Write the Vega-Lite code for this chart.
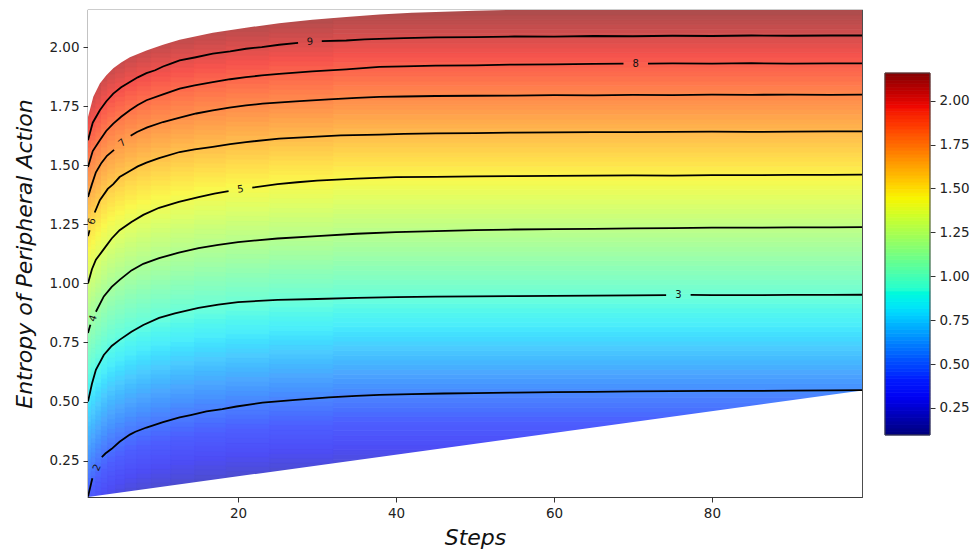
{
  "$schema": "https://vega.github.io/schema/vega-lite/v6.json",
  "width": 774,
  "height": 487,
  "autosize": {"type": "none"},
  "padding": {"left": 88, "top": 10, "right": 111, "bottom": 54},
  "background": "white",
  "config": {
    "view": {"stroke": "#3a3a3a", "strokeWidth": 1.2},
    "axis": {"domain": false, "grid": false, "tickColor": "#333", "tickSize": 5, "tickWidth": 1, "labelFontSize": 13.5, "labelColor": "#222", "labelFont": "DejaVu Sans", "titleFont": "DejaVu Sans", "titleFontStyle": "italic", "titleFontWeight": "normal", "titleFontSize": 22, "titleColor": "#111", "labelPadding": 4}
  },
  "datasets": {
    "bands": [
      {"h":0.096,"h2":0.116},{"h":0.116,"h2":0.136},{"h":0.136,"h2":0.156},{"h":0.156,"h2":0.176},{"h":0.176,"h2":0.196},
      {"h":0.196,"h2":0.216},{"h":0.216,"h2":0.236},{"h":0.236,"h2":0.256},{"h":0.256,"h2":0.276},{"h":0.276,"h2":0.296},
      {"h":0.296,"h2":0.316},{"h":0.316,"h2":0.336},{"h":0.336,"h2":0.356},{"h":0.356,"h2":0.376},{"h":0.376,"h2":0.396},
      {"h":0.396,"h2":0.416},{"h":0.416,"h2":0.436},{"h":0.436,"h2":0.456},{"h":0.456,"h2":0.476},{"h":0.476,"h2":0.496},
      {"h":0.496,"h2":0.516},{"h":0.516,"h2":0.536},{"h":0.536,"h2":0.556},{"h":0.556,"h2":0.576},{"h":0.576,"h2":0.596},
      {"h":0.596,"h2":0.616},{"h":0.616,"h2":0.636},{"h":0.636,"h2":0.656},{"h":0.656,"h2":0.676},{"h":0.676,"h2":0.696},
      {"h":0.696,"h2":0.716},{"h":0.716,"h2":0.736},{"h":0.736,"h2":0.756},{"h":0.756,"h2":0.776},{"h":0.776,"h2":0.796},
      {"h":0.796,"h2":0.816},{"h":0.816,"h2":0.836},{"h":0.836,"h2":0.856},{"h":0.856,"h2":0.876},{"h":0.876,"h2":0.896},
      {"h":0.896,"h2":0.916},{"h":0.916,"h2":0.936},{"h":0.936,"h2":0.956},{"h":0.956,"h2":0.976},{"h":0.976,"h2":0.996},
      {"h":0.996,"h2":1.016},{"h":1.016,"h2":1.036},{"h":1.036,"h2":1.056},{"h":1.056,"h2":1.076},{"h":1.076,"h2":1.096},
      {"h":1.096,"h2":1.116},{"h":1.116,"h2":1.136},{"h":1.136,"h2":1.156},{"h":1.156,"h2":1.176},{"h":1.176,"h2":1.196},
      {"h":1.196,"h2":1.216},{"h":1.216,"h2":1.236},{"h":1.236,"h2":1.256},{"h":1.256,"h2":1.276},{"h":1.276,"h2":1.296},
      {"h":1.296,"h2":1.316},{"h":1.316,"h2":1.336},{"h":1.336,"h2":1.356},{"h":1.356,"h2":1.376},{"h":1.376,"h2":1.396},
      {"h":1.396,"h2":1.416},{"h":1.416,"h2":1.436},{"h":1.436,"h2":1.456},{"h":1.456,"h2":1.476},{"h":1.476,"h2":1.496},
      {"h":1.496,"h2":1.516},{"h":1.516,"h2":1.536},{"h":1.536,"h2":1.556},{"h":1.556,"h2":1.576},{"h":1.576,"h2":1.596},
      {"h":1.596,"h2":1.616},{"h":1.616,"h2":1.636},{"h":1.636,"h2":1.656},{"h":1.656,"h2":1.676},{"h":1.676,"h2":1.696},
      {"h":1.696,"h2":1.716},{"h":1.716,"h2":1.736},{"h":1.736,"h2":1.756},{"h":1.756,"h2":1.776},{"h":1.776,"h2":1.796},
      {"h":1.796,"h2":1.816},{"h":1.816,"h2":1.836},{"h":1.836,"h2":1.856},{"h":1.856,"h2":1.876},{"h":1.876,"h2":1.896},
      {"h":1.896,"h2":1.916},{"h":1.916,"h2":1.936},{"h":1.936,"h2":1.956},{"h":1.956,"h2":1.976},{"h":1.976,"h2":1.996},
      {"h":1.996,"h2":2.016},{"h":2.016,"h2":2.036},{"h":2.036,"h2":2.056},{"h":2.056,"h2":2.076},{"h":2.076,"h2":2.096},
      {"h":2.096,"h2":2.116},{"h":2.116,"h2":2.136},{"h":2.136,"h2":2.157}
    ],
    "top": [
      {"x":1,"y":1.704},{"x":1.67,"y":1.79},{"x":2.5,"y":1.846},{"x":3.3,"y":1.88},{"x":4.2,"y":1.91},{"x":5.2,"y":1.935},
      {"x":6.3,"y":1.957},{"x":8.4,"y":1.986},{"x":10.5,"y":2.01},{"x":12.6,"y":2.031},{"x":16.8,"y":2.061},{"x":21,"y":2.082},
      {"x":25.2,"y":2.101},{"x":29.4,"y":2.116},{"x":33.7,"y":2.127},{"x":37.9,"y":2.138},{"x":42,"y":2.145},{"x":46,"y":2.15},
      {"x":50,"y":2.154},{"x":54,"y":2.157},{"x":99,"y":2.157}
    ],
    "bottom": [
      {"x":1,"y":0.096},{"x":99,"y":0.547}
    ],
    "contours": [
      {"lv":9,"s":"9a","x":1,"y":1.606},{"lv":9,"s":"9a","x":1.6,"y":1.68},{"lv":9,"s":"9a","x":2.5,"y":1.733},{"lv":9,"s":"9a","x":3.3,"y":1.77},
      {"lv":9,"s":"9a","x":4.2,"y":1.803},{"lv":9,"s":"9a","x":5.2,"y":1.83},{"lv":9,"s":"9a","x":6.3,"y":1.852},{"lv":9,"s":"9a","x":7.3,"y":1.872},
      {"lv":9,"s":"9a","x":8.4,"y":1.89},{"lv":9,"s":"9a","x":9.5,"y":1.902},{"lv":9,"s":"9a","x":10.5,"y":1.918},{"lv":9,"s":"9a","x":11.5,"y":1.93},
      {"lv":9,"s":"9a","x":12.6,"y":1.944},{"lv":9,"s":"9a","x":14.5,"y":1.956},{"lv":9,"s":"9a","x":16.8,"y":1.972},{"lv":9,"s":"9a","x":19,"y":1.982},
      {"lv":9,"s":"9a","x":21,"y":1.993},{"lv":9,"s":"9a","x":23,"y":2.0},{"lv":9,"s":"9a","x":25.2,"y":2.01},{"lv":9,"s":"9a","x":27.6,"y":2.018},
      {"lv":9,"s":"9b","x":30.6,"y":2.025},{"lv":9,"s":"9b","x":33.7,"y":2.028},{"lv":9,"s":"9b","x":36,"y":2.033},{"lv":9,"s":"9b","x":37.9,"y":2.035},
      {"lv":9,"s":"9b","x":41,"y":2.038},{"lv":9,"s":"9b","x":45,"y":2.041},{"lv":9,"s":"9b","x":50,"y":2.042},{"lv":9,"s":"9b","x":55,"y":2.045},
      {"lv":9,"s":"9b","x":60,"y":2.044},{"lv":9,"s":"9b","x":65,"y":2.047},{"lv":9,"s":"9b","x":70,"y":2.046},{"lv":9,"s":"9b","x":75,"y":2.048},
      {"lv":9,"s":"9b","x":80,"y":2.047},{"lv":9,"s":"9b","x":85,"y":2.049},{"lv":9,"s":"9b","x":90,"y":2.048},{"lv":9,"s":"9b","x":95,"y":2.049},
      {"lv":9,"s":"9b","x":99,"y":2.049},

      {"lv":8,"s":"8a","x":1,"y":1.493},{"lv":8,"s":"8a","x":1.6,"y":1.56},{"lv":8,"s":"8a","x":2.5,"y":1.606},{"lv":8,"s":"8a","x":3.3,"y":1.645},
      {"lv":8,"s":"8a","x":4.2,"y":1.676},{"lv":8,"s":"8a","x":5.2,"y":1.705},{"lv":8,"s":"8a","x":6.3,"y":1.733},{"lv":8,"s":"8a","x":7.3,"y":1.755},
      {"lv":8,"s":"8a","x":8.4,"y":1.775},{"lv":8,"s":"8a","x":10.5,"y":1.8},{"lv":8,"s":"8a","x":12.6,"y":1.824},{"lv":8,"s":"8a","x":14.5,"y":1.838},
      {"lv":8,"s":"8a","x":16.8,"y":1.852},{"lv":8,"s":"8a","x":19,"y":1.864},{"lv":8,"s":"8a","x":21,"y":1.873},{"lv":8,"s":"8a","x":23,"y":1.88},
      {"lv":8,"s":"8a","x":25.2,"y":1.887},{"lv":8,"s":"8a","x":29.4,"y":1.897},{"lv":8,"s":"8a","x":33.7,"y":1.906},{"lv":8,"s":"8a","x":37.9,"y":1.916},
      {"lv":8,"s":"8a","x":41,"y":1.918},{"lv":8,"s":"8a","x":45,"y":1.922},{"lv":8,"s":"8a","x":50,"y":1.923},{"lv":8,"s":"8a","x":55,"y":1.926},
      {"lv":8,"s":"8a","x":60,"y":1.927},{"lv":8,"s":"8a","x":65,"y":1.929},{"lv":8,"s":"8a","x":68.8,"y":1.93},
      {"lv":8,"s":"8b","x":71.9,"y":1.93},{"lv":8,"s":"8b","x":75,"y":1.931},{"lv":8,"s":"8b","x":80,"y":1.93},{"lv":8,"s":"8b","x":85,"y":1.932},
      {"lv":8,"s":"8b","x":90,"y":1.93},{"lv":8,"s":"8b","x":95,"y":1.931},{"lv":8,"s":"8b","x":99,"y":1.931},

      {"lv":7,"s":"7a","x":1,"y":1.366},{"lv":7,"s":"7a","x":1.5,"y":1.42},{"lv":7,"s":"7a","x":2,"y":1.47},{"lv":7,"s":"7a","x":2.7,"y":1.51},
      {"lv":7,"s":"7a","x":3.4,"y":1.54},{"lv":7,"s":"7a","x":4.3,"y":1.565},
      {"lv":7,"s":"7b","x":6.4,"y":1.625},{"lv":7,"s":"7b","x":7.2,"y":1.641},{"lv":7,"s":"7b","x":8.5,"y":1.66},{"lv":7,"s":"7b","x":10.5,"y":1.683},
      {"lv":7,"s":"7b","x":12.5,"y":1.7},{"lv":7,"s":"7b","x":14.7,"y":1.719},{"lv":7,"s":"7b","x":16.8,"y":1.732},{"lv":7,"s":"7b","x":18.9,"y":1.744},
      {"lv":7,"s":"7b","x":21,"y":1.753},{"lv":7,"s":"7b","x":23.1,"y":1.761},{"lv":7,"s":"7b","x":27.3,"y":1.77},{"lv":7,"s":"7b","x":31.5,"y":1.779},
      {"lv":7,"s":"7b","x":35,"y":1.785},{"lv":7,"s":"7b","x":37.9,"y":1.789},{"lv":7,"s":"7b","x":41,"y":1.791},{"lv":7,"s":"7b","x":45,"y":1.793},
      {"lv":7,"s":"7b","x":50,"y":1.794},{"lv":7,"s":"7b","x":55,"y":1.795},{"lv":7,"s":"7b","x":60,"y":1.797},{"lv":7,"s":"7b","x":65,"y":1.796},
      {"lv":7,"s":"7b","x":70,"y":1.798},{"lv":7,"s":"7b","x":75,"y":1.797},{"lv":7,"s":"7b","x":80,"y":1.799},{"lv":7,"s":"7b","x":85,"y":1.798},
      {"lv":7,"s":"7b","x":90,"y":1.799},{"lv":7,"s":"7b","x":95,"y":1.798},{"lv":7,"s":"7b","x":99,"y":1.799},

      {"lv":6,"s":"6a","x":1,"y":1.2},{"lv":6,"s":"6a","x":1.2,"y":1.225},
      {"lv":6,"s":"6b","x":1.85,"y":1.3},{"lv":6,"s":"6b","x":2.5,"y":1.352},{"lv":6,"s":"6b","x":3.5,"y":1.4},{"lv":6,"s":"6b","x":4.2,"y":1.42},
      {"lv":6,"s":"6b","x":5,"y":1.45},{"lv":6,"s":"6b","x":6.3,"y":1.476},{"lv":6,"s":"6b","x":7.3,"y":1.495},{"lv":6,"s":"6b","x":8.4,"y":1.511},
      {"lv":6,"s":"6b","x":10,"y":1.53},{"lv":6,"s":"6b","x":12.6,"y":1.556},{"lv":6,"s":"6b","x":14.5,"y":1.567},{"lv":6,"s":"6b","x":16.8,"y":1.578},
      {"lv":6,"s":"6b","x":19,"y":1.589},{"lv":6,"s":"6b","x":21,"y":1.598},{"lv":6,"s":"6b","x":25.2,"y":1.613},{"lv":6,"s":"6b","x":29.4,"y":1.62},
      {"lv":6,"s":"6b","x":33,"y":1.626},{"lv":6,"s":"6b","x":37.9,"y":1.63},{"lv":6,"s":"6b","x":41,"y":1.633},{"lv":6,"s":"6b","x":45,"y":1.635},
      {"lv":6,"s":"6b","x":50,"y":1.636},{"lv":6,"s":"6b","x":55,"y":1.638},{"lv":6,"s":"6b","x":60,"y":1.639},{"lv":6,"s":"6b","x":65,"y":1.64},
      {"lv":6,"s":"6b","x":70,"y":1.64},{"lv":6,"s":"6b","x":75,"y":1.641},{"lv":6,"s":"6b","x":80,"y":1.642},{"lv":6,"s":"6b","x":85,"y":1.641},
      {"lv":6,"s":"6b","x":90,"y":1.642},{"lv":6,"s":"6b","x":95,"y":1.643},{"lv":6,"s":"6b","x":99,"y":1.643},

      {"lv":5,"s":"5a","x":1,"y":1.0},{"lv":5,"s":"5a","x":1.5,"y":1.06},{"lv":5,"s":"5a","x":2,"y":1.1},{"lv":5,"s":"5a","x":3,"y":1.145},
      {"lv":5,"s":"5a","x":4,"y":1.19},{"lv":5,"s":"5a","x":5,"y":1.225},{"lv":5,"s":"5a","x":6.5,"y":1.26},{"lv":5,"s":"5a","x":8,"y":1.29},
      {"lv":5,"s":"5a","x":10,"y":1.32},{"lv":5,"s":"5a","x":12.5,"y":1.345},{"lv":5,"s":"5a","x":15,"y":1.365},{"lv":5,"s":"5a","x":17,"y":1.38},
      {"lv":5,"s":"5a","x":18.8,"y":1.39},
      {"lv":5,"s":"5b","x":21.8,"y":1.405},{"lv":5,"s":"5b","x":25,"y":1.42},{"lv":5,"s":"5b","x":27.5,"y":1.428},{"lv":5,"s":"5b","x":30,"y":1.435},
      {"lv":5,"s":"5b","x":35,"y":1.443},{"lv":5,"s":"5b","x":40,"y":1.45},{"lv":5,"s":"5b","x":45,"y":1.451},{"lv":5,"s":"5b","x":50,"y":1.453},
      {"lv":5,"s":"5b","x":55,"y":1.454},{"lv":5,"s":"5b","x":60,"y":1.455},{"lv":5,"s":"5b","x":65,"y":1.456},{"lv":5,"s":"5b","x":70,"y":1.457},
      {"lv":5,"s":"5b","x":75,"y":1.456},{"lv":5,"s":"5b","x":80,"y":1.458},{"lv":5,"s":"5b","x":85,"y":1.458},{"lv":5,"s":"5b","x":90,"y":1.459},
      {"lv":5,"s":"5b","x":95,"y":1.459},{"lv":5,"s":"5b","x":99,"y":1.46},

      {"lv":4,"s":"4a","x":1,"y":0.79},{"lv":4,"s":"4a","x":1.3,"y":0.825},
      {"lv":4,"s":"4b","x":2,"y":0.88},{"lv":4,"s":"4b","x":3,"y":0.945},{"lv":4,"s":"4b","x":4,"y":0.985},{"lv":4,"s":"4b","x":5,"y":1.015},
      {"lv":4,"s":"4b","x":6.5,"y":1.055},{"lv":4,"s":"4b","x":8,"y":1.083},{"lv":4,"s":"4b","x":10,"y":1.107},{"lv":4,"s":"4b","x":12.5,"y":1.13},
      {"lv":4,"s":"4b","x":15,"y":1.149},{"lv":4,"s":"4b","x":17.5,"y":1.163},{"lv":4,"s":"4b","x":20,"y":1.175},{"lv":4,"s":"4b","x":25,"y":1.19},
      {"lv":4,"s":"4b","x":30,"y":1.2},{"lv":4,"s":"4b","x":35,"y":1.21},{"lv":4,"s":"4b","x":40,"y":1.217},{"lv":4,"s":"4b","x":45,"y":1.221},
      {"lv":4,"s":"4b","x":50,"y":1.225},{"lv":4,"s":"4b","x":55,"y":1.228},{"lv":4,"s":"4b","x":60,"y":1.23},{"lv":4,"s":"4b","x":65,"y":1.231},
      {"lv":4,"s":"4b","x":70,"y":1.233},{"lv":4,"s":"4b","x":75,"y":1.234},{"lv":4,"s":"4b","x":80,"y":1.236},{"lv":4,"s":"4b","x":85,"y":1.236},
      {"lv":4,"s":"4b","x":90,"y":1.237},{"lv":4,"s":"4b","x":95,"y":1.237},{"lv":4,"s":"4b","x":99,"y":1.238},

      {"lv":3,"s":"3a","x":1,"y":0.5},{"lv":3,"s":"3a","x":1.5,"y":0.575},{"lv":3,"s":"3a","x":2,"y":0.634},{"lv":3,"s":"3a","x":3,"y":0.697},
      {"lv":3,"s":"3a","x":4,"y":0.735},{"lv":3,"s":"3a","x":5,"y":0.761},{"lv":3,"s":"3a","x":6.5,"y":0.795},{"lv":3,"s":"3a","x":8,"y":0.824},
      {"lv":3,"s":"3a","x":10,"y":0.854},{"lv":3,"s":"3a","x":12,"y":0.873},{"lv":3,"s":"3a","x":15,"y":0.896},{"lv":3,"s":"3a","x":17.5,"y":0.91},
      {"lv":3,"s":"3a","x":20,"y":0.921},{"lv":3,"s":"3a","x":25,"y":0.93},{"lv":3,"s":"3a","x":30,"y":0.934},{"lv":3,"s":"3a","x":35,"y":0.939},
      {"lv":3,"s":"3a","x":40,"y":0.942},{"lv":3,"s":"3a","x":45,"y":0.944},{"lv":3,"s":"3a","x":50,"y":0.945},{"lv":3,"s":"3a","x":55,"y":0.946},
      {"lv":3,"s":"3a","x":60,"y":0.947},{"lv":3,"s":"3a","x":65,"y":0.948},{"lv":3,"s":"3a","x":70,"y":0.949},{"lv":3,"s":"3a","x":74.2,"y":0.95},
      {"lv":3,"s":"3b","x":77.3,"y":0.951},{"lv":3,"s":"3b","x":80,"y":0.95},{"lv":3,"s":"3b","x":85,"y":0.95},{"lv":3,"s":"3b","x":90,"y":0.951},
      {"lv":3,"s":"3b","x":95,"y":0.951},{"lv":3,"s":"3b","x":99,"y":0.952},

      {"lv":2,"s":"2a","x":1,"y":0.098},{"lv":2,"s":"2a","x":1.55,"y":0.175},
      {"lv":2,"s":"2b","x":2.75,"y":0.265},{"lv":2,"s":"2b","x":3.2,"y":0.28},{"lv":2,"s":"2b","x":4,"y":0.3},{"lv":2,"s":"2b","x":5,"y":0.33},
      {"lv":2,"s":"2b","x":6.3,"y":0.36},{"lv":2,"s":"2b","x":7,"y":0.372},{"lv":2,"s":"2b","x":8.4,"y":0.39},{"lv":2,"s":"2b","x":10.5,"y":0.413},
      {"lv":2,"s":"2b","x":12.6,"y":0.433},{"lv":2,"s":"2b","x":14,"y":0.443},{"lv":2,"s":"2b","x":16,"y":0.458},{"lv":2,"s":"2b","x":18,"y":0.468},
      {"lv":2,"s":"2b","x":19.8,"y":0.479},{"lv":2,"s":"2b","x":23.1,"y":0.495},{"lv":2,"s":"2b","x":27.3,"y":0.507},{"lv":2,"s":"2b","x":31.5,"y":0.518},
      {"lv":2,"s":"2b","x":35,"y":0.524},{"lv":2,"s":"2b","x":37.9,"y":0.528},{"lv":2,"s":"2b","x":42,"y":0.531},{"lv":2,"s":"2b","x":46,"y":0.534},
      {"lv":2,"s":"2b","x":50,"y":0.536},{"lv":2,"s":"2b","x":55,"y":0.538},{"lv":2,"s":"2b","x":60,"y":0.54},{"lv":2,"s":"2b","x":65,"y":0.541},
      {"lv":2,"s":"2b","x":70,"y":0.543},{"lv":2,"s":"2b","x":75,"y":0.544},{"lv":2,"s":"2b","x":80,"y":0.545},{"lv":2,"s":"2b","x":85,"y":0.545},
      {"lv":2,"s":"2b","x":90,"y":0.546},{"lv":2,"s":"2b","x":95,"y":0.547},{"lv":2,"s":"2b","x":99,"y":0.548}
    ],
    "labels": [
      {"lv":2,"x":2.15,"y":0.22},{"lv":3,"x":75.75,"y":0.951},{"lv":4,"x":1.65,"y":0.852},{"lv":5,"x":20.3,"y":1.398},
      {"lv":6,"x":1.52,"y":1.262},{"lv":7,"x":5.35,"y":1.595},{"lv":8,"x":70.35,"y":1.93},{"lv":9,"x":29.1,"y":2.022}
    ]
  },
  "resolve": {"scale": {"x": "independent", "y": "independent", "color": "independent", "stroke": "independent"}},
  "layer": [
    {
      "data": {"name": "bands"},
      "mark": {"type": "rect", "clip": true, "strokeWidth": 0.8},
      "encoding": {
        "x": {"datum": 1, "type": "quantitative", "scale": {"domain": [1, 99], "nice": false, "zero": false},
              "axis": {"title": "Steps", "values": [20, 40, 60, 80], "titlePadding": 8}},
        "x2": {"datum": 99},
        "y": {"field": "h", "type": "quantitative", "scale": {"domain": [0.096, 2.157], "nice": false, "zero": false},
              "axis": {"title": "Entropy of Peripheral Action", "values": [0.25, 0.5, 0.75, 1.0, 1.25, 1.5, 1.75, 2.0], "format": ".2f", "titlePadding": 12}},
        "y2": {"field": "h2"},
        "color": {"field": "h", "type": "quantitative", "legend": null,
                  "scale": {"domain": [0.096, 2.157], "range": ["#4d4da6","#4d4dce","#4d4df7","#4d5fff","#4d82ff","#4da6ff","#4dcaff","#4deefa","#69ffdd","#86ffc0","#a3ffa3","#c0ff86","#ddff69","#faf84d","#ffd74d","#ffb64d","#ff954d","#ff744d","#f7534d","#ce4d4d","#a64d4d"]}},
        "stroke": {"field": "h", "type": "quantitative", "legend": null,
                  "scale": {"domain": [0.096, 2.157], "range": ["#4d4da6","#4d4dce","#4d4df7","#4d5fff","#4d82ff","#4da6ff","#4dcaff","#4deefa","#69ffdd","#86ffc0","#a3ffa3","#c0ff86","#ddff69","#faf84d","#ffd74d","#ffb64d","#ff954d","#ff744d","#f7534d","#ce4d4d","#a64d4d"]}}
      }
    },
    {"data": {"name": "bands"}, "mark": {"type": "rect", "clip": true, "strokeWidth": 0.8},
     "encoding": {"x": {"datum": 1, "type": "quantitative", "scale": {"domain": [1, 99], "nice": false, "zero": false}, "axis": null}, "x2": {"datum": 1.4},
      "y": {"field": "h", "type": "quantitative", "scale": {"domain": [0.396, 2.457], "nice": false, "zero": false}, "axis": null}, "y2": {"field": "h2"},
      "color": {"field": "h", "type": "quantitative", "legend": null, "scale": {"domain": [0.096, 2.157], "range": ["#4d4da6","#4d4dce","#4d4df7","#4d5fff","#4d82ff","#4da6ff","#4dcaff","#4deefa","#69ffdd","#86ffc0","#a3ffa3","#c0ff86","#ddff69","#faf84d","#ffd74d","#ffb64d","#ff954d","#ff744d","#f7534d","#ce4d4d","#a64d4d"]}},
      "stroke": {"field": "h", "type": "quantitative", "legend": null, "scale": {"domain": [0.096, 2.157], "range": ["#4d4da6","#4d4dce","#4d4df7","#4d5fff","#4d82ff","#4da6ff","#4dcaff","#4deefa","#69ffdd","#86ffc0","#a3ffa3","#c0ff86","#ddff69","#faf84d","#ffd74d","#ffb64d","#ff954d","#ff744d","#f7534d","#ce4d4d","#a64d4d"]}}}},
    {"data": {"name": "bands"}, "mark": {"type": "rect", "clip": true, "strokeWidth": 0.8},
     "encoding": {"x": {"datum": 1.4, "type": "quantitative", "scale": {"domain": [1, 99], "nice": false, "zero": false}, "axis": null}, "x2": {"datum": 2},
      "y": {"field": "h", "type": "quantitative", "scale": {"domain": [0.366, 2.427], "nice": false, "zero": false}, "axis": null}, "y2": {"field": "h2"},
      "color": {"field": "h", "type": "quantitative", "legend": null, "scale": {"domain": [0.096, 2.157], "range": ["#4d4da6","#4d4dce","#4d4df7","#4d5fff","#4d82ff","#4da6ff","#4dcaff","#4deefa","#69ffdd","#86ffc0","#a3ffa3","#c0ff86","#ddff69","#faf84d","#ffd74d","#ffb64d","#ff954d","#ff744d","#f7534d","#ce4d4d","#a64d4d"]}},
      "stroke": {"field": "h", "type": "quantitative", "legend": null, "scale": {"domain": [0.096, 2.157], "range": ["#4d4da6","#4d4dce","#4d4df7","#4d5fff","#4d82ff","#4da6ff","#4dcaff","#4deefa","#69ffdd","#86ffc0","#a3ffa3","#c0ff86","#ddff69","#faf84d","#ffd74d","#ffb64d","#ff954d","#ff744d","#f7534d","#ce4d4d","#a64d4d"]}}}},
    {"data": {"name": "bands"}, "mark": {"type": "rect", "clip": true, "strokeWidth": 0.8},
     "encoding": {"x": {"datum": 2, "type": "quantitative", "scale": {"domain": [1, 99], "nice": false, "zero": false}, "axis": null}, "x2": {"datum": 2.7},
      "y": {"field": "h", "type": "quantitative", "scale": {"domain": [0.331, 2.392], "nice": false, "zero": false}, "axis": null}, "y2": {"field": "h2"},
      "color": {"field": "h", "type": "quantitative", "legend": null, "scale": {"domain": [0.096, 2.157], "range": ["#4d4da6","#4d4dce","#4d4df7","#4d5fff","#4d82ff","#4da6ff","#4dcaff","#4deefa","#69ffdd","#86ffc0","#a3ffa3","#c0ff86","#ddff69","#faf84d","#ffd74d","#ffb64d","#ff954d","#ff744d","#f7534d","#ce4d4d","#a64d4d"]}},
      "stroke": {"field": "h", "type": "quantitative", "legend": null, "scale": {"domain": [0.096, 2.157], "range": ["#4d4da6","#4d4dce","#4d4df7","#4d5fff","#4d82ff","#4da6ff","#4dcaff","#4deefa","#69ffdd","#86ffc0","#a3ffa3","#c0ff86","#ddff69","#faf84d","#ffd74d","#ffb64d","#ff954d","#ff744d","#f7534d","#ce4d4d","#a64d4d"]}}}},
    {"data": {"name": "bands"}, "mark": {"type": "rect", "clip": true, "strokeWidth": 0.8},
     "encoding": {"x": {"datum": 2.7, "type": "quantitative", "scale": {"domain": [1, 99], "nice": false, "zero": false}, "axis": null}, "x2": {"datum": 3.5},
      "y": {"field": "h", "type": "quantitative", "scale": {"domain": [0.296, 2.357], "nice": false, "zero": false}, "axis": null}, "y2": {"field": "h2"},
      "color": {"field": "h", "type": "quantitative", "legend": null, "scale": {"domain": [0.096, 2.157], "range": ["#4d4da6","#4d4dce","#4d4df7","#4d5fff","#4d82ff","#4da6ff","#4dcaff","#4deefa","#69ffdd","#86ffc0","#a3ffa3","#c0ff86","#ddff69","#faf84d","#ffd74d","#ffb64d","#ff954d","#ff744d","#f7534d","#ce4d4d","#a64d4d"]}},
      "stroke": {"field": "h", "type": "quantitative", "legend": null, "scale": {"domain": [0.096, 2.157], "range": ["#4d4da6","#4d4dce","#4d4df7","#4d5fff","#4d82ff","#4da6ff","#4dcaff","#4deefa","#69ffdd","#86ffc0","#a3ffa3","#c0ff86","#ddff69","#faf84d","#ffd74d","#ffb64d","#ff954d","#ff744d","#f7534d","#ce4d4d","#a64d4d"]}}}},
    {"data": {"name": "bands"}, "mark": {"type": "rect", "clip": true, "strokeWidth": 0.8},
     "encoding": {"x": {"datum": 3.5, "type": "quantitative", "scale": {"domain": [1, 99], "nice": false, "zero": false}, "axis": null}, "x2": {"datum": 4.5},
      "y": {"field": "h", "type": "quantitative", "scale": {"domain": [0.266, 2.327], "nice": false, "zero": false}, "axis": null}, "y2": {"field": "h2"},
      "color": {"field": "h", "type": "quantitative", "legend": null, "scale": {"domain": [0.096, 2.157], "range": ["#4d4da6","#4d4dce","#4d4df7","#4d5fff","#4d82ff","#4da6ff","#4dcaff","#4deefa","#69ffdd","#86ffc0","#a3ffa3","#c0ff86","#ddff69","#faf84d","#ffd74d","#ffb64d","#ff954d","#ff744d","#f7534d","#ce4d4d","#a64d4d"]}},
      "stroke": {"field": "h", "type": "quantitative", "legend": null, "scale": {"domain": [0.096, 2.157], "range": ["#4d4da6","#4d4dce","#4d4df7","#4d5fff","#4d82ff","#4da6ff","#4dcaff","#4deefa","#69ffdd","#86ffc0","#a3ffa3","#c0ff86","#ddff69","#faf84d","#ffd74d","#ffb64d","#ff954d","#ff744d","#f7534d","#ce4d4d","#a64d4d"]}}}},
    {"data": {"name": "bands"}, "mark": {"type": "rect", "clip": true, "strokeWidth": 0.8},
     "encoding": {"x": {"datum": 4.5, "type": "quantitative", "scale": {"domain": [1, 99], "nice": false, "zero": false}, "axis": null}, "x2": {"datum": 5.7},
      "y": {"field": "h", "type": "quantitative", "scale": {"domain": [0.241, 2.302], "nice": false, "zero": false}, "axis": null}, "y2": {"field": "h2"},
      "color": {"field": "h", "type": "quantitative", "legend": null, "scale": {"domain": [0.096, 2.157], "range": ["#4d4da6","#4d4dce","#4d4df7","#4d5fff","#4d82ff","#4da6ff","#4dcaff","#4deefa","#69ffdd","#86ffc0","#a3ffa3","#c0ff86","#ddff69","#faf84d","#ffd74d","#ffb64d","#ff954d","#ff744d","#f7534d","#ce4d4d","#a64d4d"]}},
      "stroke": {"field": "h", "type": "quantitative", "legend": null, "scale": {"domain": [0.096, 2.157], "range": ["#4d4da6","#4d4dce","#4d4df7","#4d5fff","#4d82ff","#4da6ff","#4dcaff","#4deefa","#69ffdd","#86ffc0","#a3ffa3","#c0ff86","#ddff69","#faf84d","#ffd74d","#ffb64d","#ff954d","#ff744d","#f7534d","#ce4d4d","#a64d4d"]}}}},
    {"data": {"name": "bands"}, "mark": {"type": "rect", "clip": true, "strokeWidth": 0.8},
     "encoding": {"x": {"datum": 5.7, "type": "quantitative", "scale": {"domain": [1, 99], "nice": false, "zero": false}, "axis": null}, "x2": {"datum": 7.2},
      "y": {"field": "h", "type": "quantitative", "scale": {"domain": [0.216, 2.277], "nice": false, "zero": false}, "axis": null}, "y2": {"field": "h2"},
      "color": {"field": "h", "type": "quantitative", "legend": null, "scale": {"domain": [0.096, 2.157], "range": ["#4d4da6","#4d4dce","#4d4df7","#4d5fff","#4d82ff","#4da6ff","#4dcaff","#4deefa","#69ffdd","#86ffc0","#a3ffa3","#c0ff86","#ddff69","#faf84d","#ffd74d","#ffb64d","#ff954d","#ff744d","#f7534d","#ce4d4d","#a64d4d"]}},
      "stroke": {"field": "h", "type": "quantitative", "legend": null, "scale": {"domain": [0.096, 2.157], "range": ["#4d4da6","#4d4dce","#4d4df7","#4d5fff","#4d82ff","#4da6ff","#4dcaff","#4deefa","#69ffdd","#86ffc0","#a3ffa3","#c0ff86","#ddff69","#faf84d","#ffd74d","#ffb64d","#ff954d","#ff744d","#f7534d","#ce4d4d","#a64d4d"]}}}},
    {"data": {"name": "bands"}, "mark": {"type": "rect", "clip": true, "strokeWidth": 0.8},
     "encoding": {"x": {"datum": 7.2, "type": "quantitative", "scale": {"domain": [1, 99], "nice": false, "zero": false}, "axis": null}, "x2": {"datum": 9},
      "y": {"field": "h", "type": "quantitative", "scale": {"domain": [0.196, 2.257], "nice": false, "zero": false}, "axis": null}, "y2": {"field": "h2"},
      "color": {"field": "h", "type": "quantitative", "legend": null, "scale": {"domain": [0.096, 2.157], "range": ["#4d4da6","#4d4dce","#4d4df7","#4d5fff","#4d82ff","#4da6ff","#4dcaff","#4deefa","#69ffdd","#86ffc0","#a3ffa3","#c0ff86","#ddff69","#faf84d","#ffd74d","#ffb64d","#ff954d","#ff744d","#f7534d","#ce4d4d","#a64d4d"]}},
      "stroke": {"field": "h", "type": "quantitative", "legend": null, "scale": {"domain": [0.096, 2.157], "range": ["#4d4da6","#4d4dce","#4d4df7","#4d5fff","#4d82ff","#4da6ff","#4dcaff","#4deefa","#69ffdd","#86ffc0","#a3ffa3","#c0ff86","#ddff69","#faf84d","#ffd74d","#ffb64d","#ff954d","#ff744d","#f7534d","#ce4d4d","#a64d4d"]}}}},
    {"data": {"name": "bands"}, "mark": {"type": "rect", "clip": true, "strokeWidth": 0.8},
     "encoding": {"x": {"datum": 9, "type": "quantitative", "scale": {"domain": [1, 99], "nice": false, "zero": false}, "axis": null}, "x2": {"datum": 11.5},
      "y": {"field": "h", "type": "quantitative", "scale": {"domain": [0.176, 2.237], "nice": false, "zero": false}, "axis": null}, "y2": {"field": "h2"},
      "color": {"field": "h", "type": "quantitative", "legend": null, "scale": {"domain": [0.096, 2.157], "range": ["#4d4da6","#4d4dce","#4d4df7","#4d5fff","#4d82ff","#4da6ff","#4dcaff","#4deefa","#69ffdd","#86ffc0","#a3ffa3","#c0ff86","#ddff69","#faf84d","#ffd74d","#ffb64d","#ff954d","#ff744d","#f7534d","#ce4d4d","#a64d4d"]}},
      "stroke": {"field": "h", "type": "quantitative", "legend": null, "scale": {"domain": [0.096, 2.157], "range": ["#4d4da6","#4d4dce","#4d4df7","#4d5fff","#4d82ff","#4da6ff","#4dcaff","#4deefa","#69ffdd","#86ffc0","#a3ffa3","#c0ff86","#ddff69","#faf84d","#ffd74d","#ffb64d","#ff954d","#ff744d","#f7534d","#ce4d4d","#a64d4d"]}}}},
    {"data": {"name": "bands"}, "mark": {"type": "rect", "clip": true, "strokeWidth": 0.8},
     "encoding": {"x": {"datum": 11.5, "type": "quantitative", "scale": {"domain": [1, 99], "nice": false, "zero": false}, "axis": null}, "x2": {"datum": 14.5},
      "y": {"field": "h", "type": "quantitative", "scale": {"domain": [0.158, 2.219], "nice": false, "zero": false}, "axis": null}, "y2": {"field": "h2"},
      "color": {"field": "h", "type": "quantitative", "legend": null, "scale": {"domain": [0.096, 2.157], "range": ["#4d4da6","#4d4dce","#4d4df7","#4d5fff","#4d82ff","#4da6ff","#4dcaff","#4deefa","#69ffdd","#86ffc0","#a3ffa3","#c0ff86","#ddff69","#faf84d","#ffd74d","#ffb64d","#ff954d","#ff744d","#f7534d","#ce4d4d","#a64d4d"]}},
      "stroke": {"field": "h", "type": "quantitative", "legend": null, "scale": {"domain": [0.096, 2.157], "range": ["#4d4da6","#4d4dce","#4d4df7","#4d5fff","#4d82ff","#4da6ff","#4dcaff","#4deefa","#69ffdd","#86ffc0","#a3ffa3","#c0ff86","#ddff69","#faf84d","#ffd74d","#ffb64d","#ff954d","#ff744d","#f7534d","#ce4d4d","#a64d4d"]}}}},
    {"data": {"name": "bands"}, "mark": {"type": "rect", "clip": true, "strokeWidth": 0.8},
     "encoding": {"x": {"datum": 14.5, "type": "quantitative", "scale": {"domain": [1, 99], "nice": false, "zero": false}, "axis": null}, "x2": {"datum": 18.5},
      "y": {"field": "h", "type": "quantitative", "scale": {"domain": [0.141, 2.202], "nice": false, "zero": false}, "axis": null}, "y2": {"field": "h2"},
      "color": {"field": "h", "type": "quantitative", "legend": null, "scale": {"domain": [0.096, 2.157], "range": ["#4d4da6","#4d4dce","#4d4df7","#4d5fff","#4d82ff","#4da6ff","#4dcaff","#4deefa","#69ffdd","#86ffc0","#a3ffa3","#c0ff86","#ddff69","#faf84d","#ffd74d","#ffb64d","#ff954d","#ff744d","#f7534d","#ce4d4d","#a64d4d"]}},
      "stroke": {"field": "h", "type": "quantitative", "legend": null, "scale": {"domain": [0.096, 2.157], "range": ["#4d4da6","#4d4dce","#4d4df7","#4d5fff","#4d82ff","#4da6ff","#4dcaff","#4deefa","#69ffdd","#86ffc0","#a3ffa3","#c0ff86","#ddff69","#faf84d","#ffd74d","#ffb64d","#ff954d","#ff744d","#f7534d","#ce4d4d","#a64d4d"]}}}},
    {"data": {"name": "bands"}, "mark": {"type": "rect", "clip": true, "strokeWidth": 0.8},
     "encoding": {"x": {"datum": 18.5, "type": "quantitative", "scale": {"domain": [1, 99], "nice": false, "zero": false}, "axis": null}, "x2": {"datum": 24},
      "y": {"field": "h", "type": "quantitative", "scale": {"domain": [0.126, 2.187], "nice": false, "zero": false}, "axis": null}, "y2": {"field": "h2"},
      "color": {"field": "h", "type": "quantitative", "legend": null, "scale": {"domain": [0.096, 2.157], "range": ["#4d4da6","#4d4dce","#4d4df7","#4d5fff","#4d82ff","#4da6ff","#4dcaff","#4deefa","#69ffdd","#86ffc0","#a3ffa3","#c0ff86","#ddff69","#faf84d","#ffd74d","#ffb64d","#ff954d","#ff744d","#f7534d","#ce4d4d","#a64d4d"]}},
      "stroke": {"field": "h", "type": "quantitative", "legend": null, "scale": {"domain": [0.096, 2.157], "range": ["#4d4da6","#4d4dce","#4d4df7","#4d5fff","#4d82ff","#4da6ff","#4dcaff","#4deefa","#69ffdd","#86ffc0","#a3ffa3","#c0ff86","#ddff69","#faf84d","#ffd74d","#ffb64d","#ff954d","#ff744d","#f7534d","#ce4d4d","#a64d4d"]}}}},
    {"data": {"name": "bands"}, "mark": {"type": "rect", "clip": true, "strokeWidth": 0.8},
     "encoding": {"x": {"datum": 24, "type": "quantitative", "scale": {"domain": [1, 99], "nice": false, "zero": false}, "axis": null}, "x2": {"datum": 32},
      "y": {"field": "h", "type": "quantitative", "scale": {"domain": [0.111, 2.172], "nice": false, "zero": false}, "axis": null}, "y2": {"field": "h2"},
      "color": {"field": "h", "type": "quantitative", "legend": null, "scale": {"domain": [0.096, 2.157], "range": ["#4d4da6","#4d4dce","#4d4df7","#4d5fff","#4d82ff","#4da6ff","#4dcaff","#4deefa","#69ffdd","#86ffc0","#a3ffa3","#c0ff86","#ddff69","#faf84d","#ffd74d","#ffb64d","#ff954d","#ff744d","#f7534d","#ce4d4d","#a64d4d"]}},
      "stroke": {"field": "h", "type": "quantitative", "legend": null, "scale": {"domain": [0.096, 2.157], "range": ["#4d4da6","#4d4dce","#4d4df7","#4d5fff","#4d82ff","#4da6ff","#4dcaff","#4deefa","#69ffdd","#86ffc0","#a3ffa3","#c0ff86","#ddff69","#faf84d","#ffd74d","#ffb64d","#ff954d","#ff744d","#f7534d","#ce4d4d","#a64d4d"]}}}},
    {
      "data": {"name": "top"},
      "mark": {"type": "area", "color": "white", "clip": true},
      "encoding": {
        "x": {"field": "x", "type": "quantitative", "scale": {"domain": [1, 99], "nice": false, "zero": false}, "axis": null},
        "y": {"field": "y", "type": "quantitative", "scale": {"domain": [0.096, 2.157], "nice": false, "zero": false}, "axis": null},
        "y2": {"datum": 2.157}
      }
    },
    {
      "data": {"name": "bottom"},
      "mark": {"type": "area", "color": "white", "clip": true},
      "encoding": {
        "x": {"field": "x", "type": "quantitative", "scale": {"domain": [1, 99], "nice": false, "zero": false}, "axis": null},
        "y": {"field": "y", "type": "quantitative", "scale": {"domain": [0.096, 2.157], "nice": false, "zero": false}, "axis": null},
        "y2": {"datum": 0.096}
      }
    },
    {
      "data": {"name": "contours"},
      "mark": {"type": "line", "color": "#000", "strokeWidth": 1.8, "clip": true},
      "encoding": {
        "x": {"field": "x", "type": "quantitative", "scale": {"domain": [1, 99], "nice": false, "zero": false}, "axis": null},
        "y": {"field": "y", "type": "quantitative", "scale": {"domain": [0.096, 2.157], "nice": false, "zero": false}, "axis": null},
        "detail": {"field": "s", "type": "nominal"}
      }
    },
    {
      "data": {"name": "labels"},
      "mark": {"type": "text", "fontSize": 10, "font": "DejaVu Sans", "color": "#111", "align": "center", "baseline": "middle"},
      "encoding": {
        "x": {"field": "x", "type": "quantitative", "scale": {"domain": [1, 99], "nice": false, "zero": false}, "axis": null},
        "y": {"field": "y", "type": "quantitative", "scale": {"domain": [0.096, 2.157], "nice": false, "zero": false}, "axis": null},
        "text": {"field": "lv", "type": "nominal"},
        "angle": {"field": "lv", "type": "ordinal", "legend": null,
                  "scale": {"type": "ordinal", "domain": [2, 3, 4, 5, 6, 7, 8, 9], "range": [-66, 0, -72, -8, -74, -40, 0, -4]}}
      }
    },
    {
      "data": {"name": "bands"},
      "mark": {"type": "rect", "clip": false, "strokeWidth": 0.8},
      "encoding": {
        "x": {"datum": 0, "type": "quantitative", "scale": {"domain": [-17.711, -0.511], "nice": false, "zero": false}, "axis": null},
        "x2": {"datum": 1},
        "y": {"field": "h", "type": "quantitative", "scale": {"domain": [-0.257, 2.516], "nice": false, "zero": false},
              "axis": {"orient": "right", "offset": 68, "title": null, "values": [0.25, 0.5, 0.75, 1.0, 1.25, 1.5, 1.75, 2.0], "format": ".2f"}},
        "y2": {"field": "h2"},
        "color": {"field": "h", "type": "quantitative", "legend": null,
                  "scale": {"domain": [0.096, 2.157], "range": ["#000080","#0000b9","#0000f3","#001aff","#004dff","#0080ff","#00b3ff","#00e6f7","#29ffce","#52ffa5","#7bff7b","#a5ff52","#ceff29","#f7f500","#ffc600","#ff9700","#ff6800","#ff3900","#f30900","#b90000","#800000"]}},
        "stroke": {"field": "h", "type": "quantitative", "legend": null,
                  "scale": {"domain": [0.096, 2.157], "range": ["#000080","#0000b9","#0000f3","#001aff","#004dff","#0080ff","#00b3ff","#00e6f7","#29ffce","#52ffa5","#7bff7b","#a5ff52","#ceff29","#f7f500","#ffc600","#ff9700","#ff6800","#ff3900","#f30900","#b90000","#800000"]}}
      }
    },
    {
      "data": {"values": [{"lo": 0.096, "hi": 2.157}]},
      "mark": {"type": "rect", "clip": false, "filled": false, "fill": null, "stroke": "#444", "strokeWidth": 1},
      "encoding": {
        "x": {"datum": 0, "type": "quantitative", "scale": {"domain": [-17.711, -0.511], "nice": false, "zero": false}, "axis": null},
        "x2": {"datum": 1},
        "y": {"field": "lo", "type": "quantitative", "scale": {"domain": [-0.257, 2.516], "nice": false, "zero": false}, "axis": null},
        "y2": {"field": "hi"}
      }
    }
  ]
}
